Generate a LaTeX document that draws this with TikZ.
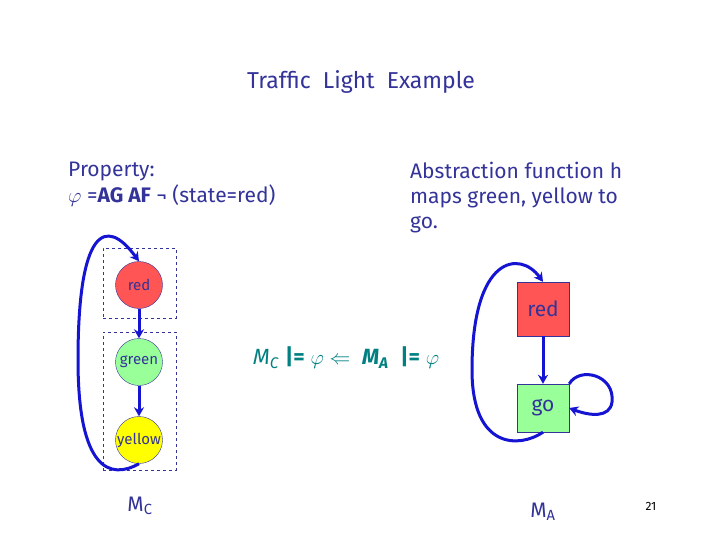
\documentclass[tikz,border=0pt]{standalone}
\usepackage{amsmath}
\usepackage{fontspec}
\setmainfont{Fira Sans}
\usetikzlibrary{arrows.meta}
\definecolor{navy}{RGB}{51,51,153}
\definecolor{tealc}{RGB}{0,128,128}
\definecolor{edgeb}{RGB}{20,20,210}
\definecolor{redf}{RGB}{255,85,85}
\definecolor{greenf}{RGB}{153,255,153}
\definecolor{yellowf}{RGB}{255,255,0}
\tikzset{
 txt/.style={text=navy,font=\fontsize{21}{25}\selectfont,inner sep=0pt},
 st/.style={circle,draw=navy,minimum size=47pt,inner sep=0pt,text=navy,font=\fontsize{15}{17}\selectfont},
 sq/.style={rectangle,draw=navy,minimum width=52pt,inner sep=0pt,text=navy,font=\fontsize{21}{25}\selectfont},
 grp/.style={draw=navy,dashed},
 ed/.style={draw=edgeb,line width=3pt,-{Stealth[length=9pt,width=10pt]}}
}
\begin{document}
\begin{tikzpicture}[x=1pt,y=-1pt]
\useasboundingbox[fill=white] (0,0) rectangle (720,540);
\node[txt,font=\fontsize{23}{27}\selectfont] (title) at (361,82) {Traffic \ Light \ Example};
\node[txt,anchor=north west,align=left] (prop) at (68,162) {Property:\\[1pt]$\varphi$ =\textbf{AG AF} ¬ (state=red)};
\node[txt,anchor=north west,align=left] (abs) at (410,162) {Abstraction function h\\maps green, yellow to\\go.};
\node[grp,minimum width=73pt,minimum height=70pt] (g1) at (139.5,283) {};
\node[grp,minimum width=73pt,minimum height=138pt] (g2) at (139.5,401) {};
\node[st,fill=redf] (r) at (139,285) {red};
\node[st,fill=greenf] (g) at (139,362) {green};
\node[st,fill=yellowf] (y) at (139,440) {yellow};
\draw[ed] (r) -- (g);
\draw[ed] (g) -- (y);
\draw[ed] (y.south) .. controls (110,480) and (78,470) .. (78,360) .. controls (78,230) and (105,215) .. (r.north);
\node[sq,fill=redf,minimum height=54pt] (ra) at (543,309) {red};
\node[sq,fill=greenf,minimum height=48pt] (go) at (543,408) {go};
\draw[ed] (ra) -- (go);
\draw[ed] (go.south) .. controls (520,448) and (472,450) .. (472,370) .. controls (472,255) and (520,250) .. (ra.north);
\draw[ed] (go.north east) .. controls (580,366) and (615,375) .. (612,402) .. controls (610,418) and (590,416) .. (go.east);
\node[text=tealc,inner sep=0pt,font=\fontsize{22}{26}\selectfont] (f) at (346,358) {\textit{M}\textsubscript{\textit{C}} \textbf{|=} $\varphi\Leftarrow$ \ \textbf{\textit{M}\textsubscript{\textit{A}}} \ \textbf{|=} $\varphi$};
\node[txt] (mc) at (140,506) {M\textsubscript{C}};
\node[txt] (ma) at (543,512) {M\textsubscript{A}};
\node[txt,font=\fontsize{12}{14}\selectfont,text=black] (pg) at (651,506) {21};
\end{tikzpicture}
\end{document}
